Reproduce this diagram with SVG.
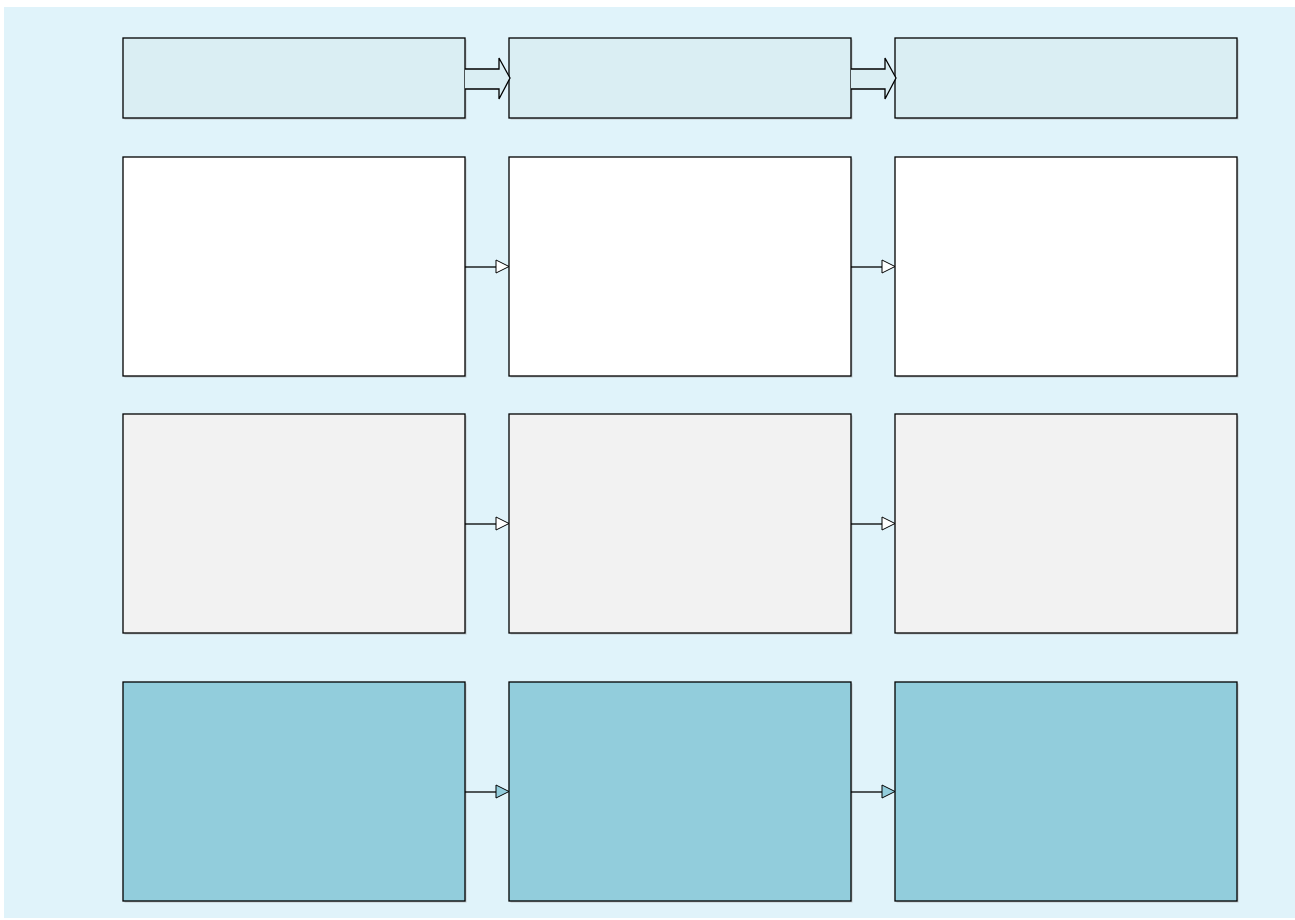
<svg xmlns="http://www.w3.org/2000/svg" width="1295" height="920" viewBox="0 0 1295 920">
<style>
.box{stroke:#000;stroke-width:1.3}
.sh{fill:#9a9a9a;opacity:0.5}
.r1{fill:#DAEEF3}
.r2{fill:#FFFFFF}
.r3{fill:#F2F2F2}
.r4{fill:#92CDDC}
.ln{stroke:#000;stroke-width:1.3;fill:none}
.hd{stroke:#000;stroke-width:1;fill:#fff}
.hd4{stroke:#000;stroke-width:1;fill:#92CDDC}
.blk{stroke:#000;stroke-width:1.3;fill:#DAEEF3;stroke-linejoin:miter}
</style>
<rect x="4" y="7" width="1291" height="911" fill="#E0F3FA"/>
<g id="r1c1"><rect class="sh" x="124.5" y="39.5" width="342" height="80"/><rect class="box r1" x="123" y="38" width="342" height="80"/></g>
<g id="r1c2"><rect class="sh" x="510.5" y="39.5" width="342" height="80"/><rect class="box r1" x="509" y="38" width="342" height="80"/></g>
<g id="r1c3"><rect class="sh" x="896.5" y="39.5" width="342" height="80"/><rect class="box r1" x="895" y="38" width="342" height="80"/></g>
<g id="r2c1"><rect class="sh" x="124.5" y="158.5" width="342" height="219"/><rect class="box r2" x="123" y="157" width="342" height="219"/></g>
<g id="r2c2"><rect class="sh" x="510.5" y="158.5" width="342" height="219"/><rect class="box r2" x="509" y="157" width="342" height="219"/></g>
<g id="r2c3"><rect class="sh" x="896.5" y="158.5" width="342" height="219"/><rect class="box r2" x="895" y="157" width="342" height="219"/></g>
<g id="r3c1"><rect class="sh" x="124.5" y="415.5" width="342" height="219"/><rect class="box r3" x="123" y="414" width="342" height="219"/></g>
<g id="r3c2"><rect class="sh" x="510.5" y="415.5" width="342" height="219"/><rect class="box r3" x="509" y="414" width="342" height="219"/></g>
<g id="r3c3"><rect class="sh" x="896.5" y="415.5" width="342" height="219"/><rect class="box r3" x="895" y="414" width="342" height="219"/></g>
<g id="r4c1"><rect class="sh" x="124.5" y="683.5" width="342" height="219"/><rect class="box r4" x="123" y="682" width="342" height="219"/></g>
<g id="r4c2"><rect class="sh" x="510.5" y="683.5" width="342" height="219"/><rect class="box r4" x="509" y="682" width="342" height="219"/></g>
<g id="r4c3"><rect class="sh" x="896.5" y="683.5" width="342" height="219"/><rect class="box r4" x="895" y="682" width="342" height="219"/></g>
<g id="connectors">
<path class="blk" d="M465,69 H499 V58 L510,78 L499,99 V89 H465"/>
<path class="blk" d="M851,69 H885 V58 L896,78 L885,99 V89 H851"/>
<line class="ln" x1="465" y1="267" x2="496" y2="267"/><polygon class="hd" points="496,260 509,266.5 496,273"/>
<line class="ln" x1="851" y1="267" x2="882" y2="267"/><polygon class="hd" points="882,260 895,266.5 882,273"/>
<line class="ln" x1="465" y1="524" x2="496" y2="524"/><polygon class="hd" points="496,517 509,523.5 496,530"/>
<line class="ln" x1="851" y1="524" x2="882" y2="524"/><polygon class="hd" points="882,517 895,523.5 882,530"/>
<line class="ln" x1="465" y1="792" x2="496" y2="792"/><polygon class="hd4" points="496,785 509,791.5 496,798"/>
<line class="ln" x1="851" y1="792" x2="882" y2="792"/><polygon class="hd4" points="882,785 895,791.5 882,798"/>
</g>
</svg>
